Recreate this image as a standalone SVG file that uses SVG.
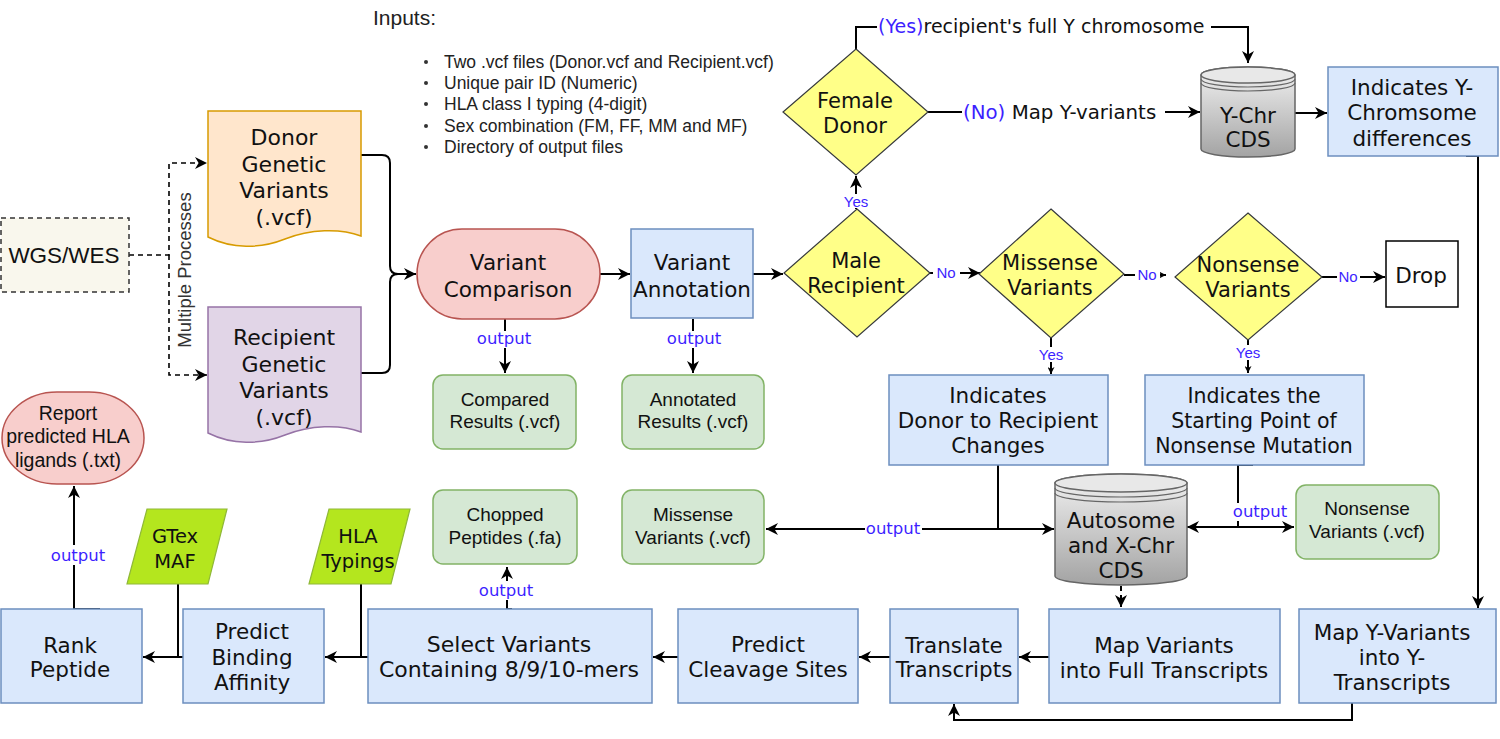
<svg xmlns="http://www.w3.org/2000/svg" width="1500" height="739" viewBox="0 0 1500 739">
<defs>
<style>
.blue{fill:#dae8fc;stroke:#6c8ebf;stroke-width:1.5}
.green{fill:#d5e8d4;stroke:#82b366;stroke-width:1.5}
.red{fill:#f8cecc;stroke:#b85450;stroke-width:1.5}
.yel{fill:#ffff88;stroke:#36393d;stroke-width:1.2}
.lime{fill:#b4e61e;stroke:#8fb838;stroke-width:1.2}
.cyl{fill:url(#cg);stroke:#666;stroke-width:1.5}
.cylt{fill:#e8e8e8;stroke:#666;stroke-width:1.5}
.ring{fill:none;stroke:#666;stroke-width:1.2}
.t{font-family:'DejaVu Sans',Verdana,sans-serif;font-size:21.5px;fill:#111;text-anchor:middle}
.h{font-family:'Liberation Sans',Arial,sans-serif;fill:#111;text-anchor:middle}
.g{font-family:'Liberation Sans',Arial,sans-serif;font-size:19px;fill:#111;text-anchor:middle}
.o{font-family:'DejaVu Sans',Verdana,sans-serif;font-size:16.5px;fill:#3d1fff;text-anchor:middle}
.yn{font-family:'Liberation Sans',Arial,sans-serif;font-size:15px;fill:#3d1fff;text-anchor:middle}
.e{fill:none;stroke:#000;stroke-width:2}
.d{fill:none;stroke:#000;stroke-width:1.6;stroke-dasharray:5,4}
.bg{fill:#fff}
</style>
<linearGradient id="cg" x1="0" y1="0" x2="0" y2="1">
<stop offset="0" stop-color="#f2f2f2"/>
<stop offset="1" stop-color="#a3a3a3"/>
</linearGradient>
<marker id="a" viewBox="0 0 10 10" refX="10" refY="5" markerWidth="12" markerHeight="12" markerUnits="userSpaceOnUse" orient="auto">
<path d="M0,0 L10,5 L0,10 L3,5 Z" fill="#000"/>
</marker>
<marker id="s" viewBox="0 0 10 10" refX="10" refY="5" markerWidth="7" markerHeight="7" markerUnits="userSpaceOnUse" orient="auto">
<path d="M0,0 L10,5 L0,10 L3,5 Z" fill="#000"/>
</marker>
</defs>
<rect width="1500" height="739" fill="#fff"/>

<g id="inputs">
<text class="h" x="373" y="25" style="font-size:21px;text-anchor:start;fill:#222">Inputs:</text>
<g fill="#333"><circle cx="426" cy="62" r="2"/><circle cx="426" cy="83" r="2"/><circle cx="426" cy="104" r="2"/><circle cx="426" cy="126" r="2"/><circle cx="426" cy="147" r="2"/></g>
<g class="h" style="font-size:17.5px;text-anchor:start;fill:#222">
<text x="444" y="68">Two .vcf files (Donor.vcf and Recipient.vcf)</text>
<text x="444" y="89">Unique pair ID (Numeric)</text>
<text x="444" y="110">HLA class I typing (4-digit)</text>
<text x="444" y="132">Sex combination (FM, FF, MM and MF)</text>
<text x="444" y="153">Directory of output files</text>
</g>
</g>

<g id="connectors">
<path class="d" d="M129,255 H169 V163 H207" marker-end="url(#a)"/>
<path class="d" d="M169,255 V375 H207" marker-end="url(#a)"/>
<text class="h" transform="translate(191,270) rotate(-90)" style="font-size:18.5px;fill:#333">Multiple Processes</text>
<path class="e" d="M361,155 H382 Q390,155 390,163 V266 Q390,274 398,274 H416" marker-end="url(#a)"/>
<path class="e" d="M361,373 H382 Q390,373 390,365 V282 Q390,274 398,274"/>
<path class="e" d="M600,274 H630" marker-end="url(#a)"/>
<path class="e" d="M753,274 H783" marker-end="url(#a)"/>
<path class="e" d="M505,319 V373" marker-end="url(#a)"/>
<rect class="bg" x="478" y="331" width="54" height="17"/>
<text class="o" x="504" y="344">output</text>
<path class="e" d="M693,319 V373" marker-end="url(#a)"/>
<rect class="bg" x="667" y="331" width="54" height="17"/>
<text class="o" x="694" y="344">output</text>
<path class="e" d="M856,209 V176" marker-end="url(#a)"/>
<rect class="bg" x="843" y="194" width="26" height="14"/>
<text class="yn" x="856" y="207">Yes</text>
<path class="e" d="M856,49 V27 H1248 V63" marker-end="url(#a)"/>
<rect class="bg" x="877" y="15" width="334" height="22"/>
<text class="t" x="878" y="33" style="font-size:19px;text-anchor:start"><tspan fill="#3d1fff">(Yes)</tspan>recipient's full Y chromosome</text>
<path class="e" d="M928,112 H1200" marker-end="url(#a)"/>
<rect class="bg" x="962" y="101" width="203" height="23"/>
<text class="t" x="963" y="119" style="font-size:19.8px;text-anchor:start"><tspan fill="#3d1fff">(No)</tspan> Map Y-variants</text>
<path class="e" d="M1295,113 H1327" marker-end="url(#a)"/>
<path class="e" d="M1466,156 H1478 V608" marker-end="url(#a)"/>
<path class="e" d="M930,273 H980" marker-end="url(#a)"/>
<rect class="bg" x="933" y="264" width="27" height="16"/>
<text class="yn" x="946" y="278">No</text>
<path class="e" d="M1124,275 H1166" marker-end="url(#s)"/>
<rect class="bg" x="1135" y="266" width="25" height="16"/>
<text class="yn" x="1147" y="280">No</text>
<path class="e" d="M1322,277 H1385" marker-end="url(#a)"/>
<rect class="bg" x="1337" y="268" width="23" height="16"/>
<text class="yn" x="1348" y="282">No</text>
<path class="e" d="M1051,338 V374" marker-end="url(#s)"/>
<rect class="bg" x="1038" y="347" width="27" height="15"/>
<text class="yn" x="1051" y="360">Yes</text>
<path class="e" d="M1248,340 V373" marker-end="url(#s)"/>
<rect class="bg" x="1235" y="345" width="27" height="15"/>
<text class="yn" x="1248" y="358">Yes</text>
<path class="e" d="M998,465 V529"/>
<path class="e" d="M998,529 H766" marker-end="url(#a)"/>
<path class="e" d="M998,529 H1054" marker-end="url(#a)"/>
<rect class="bg" x="865" y="519" width="57" height="19"/>
<text class="o" x="893" y="534">output</text>
<path class="e" d="M1253,465 H1238 V527"/>
<path class="e" d="M1238,527 H1187" marker-end="url(#a)"/>
<path class="e" d="M1238,527 H1294" marker-end="url(#a)"/>
<rect class="bg" x="1233" y="503" width="54" height="18"/>
<text class="o" x="1260" y="517">output</text>
<path class="d" d="M1121,586 V607" style="stroke-width:2" marker-end="url(#a)"/>
<path class="e" d="M1049,657 H1019" marker-end="url(#a)"/>
<path class="e" d="M1352,703 V720 H954 V704" marker-end="url(#a)"/>
<path class="e" d="M890,657 H859" marker-end="url(#a)"/>
<path class="e" d="M678,657 H653" marker-end="url(#a)"/>
<path class="e" d="M512,609 H507 V567" marker-end="url(#a)"/>
<rect class="bg" x="479" y="581" width="56" height="19"/>
<text class="o" x="506" y="596">output</text>
<path class="e" d="M361,584 V657"/>
<path class="e" d="M368,657 H325" marker-end="url(#a)"/>
<path class="e" d="M178,584 V657"/>
<path class="e" d="M183,657 H143" marker-end="url(#a)"/>
<path class="e" d="M100,609 H74 V486" marker-end="url(#a)"/>
<rect class="bg" x="50" y="545" width="56" height="20"/>
<text class="o" x="78" y="561">output</text>
</g>

<g id="wgs">
<rect x="1" y="218" width="128" height="74" fill="#f9f7ed" stroke="#333" stroke-width="1.5" stroke-dasharray="5,4"/>
<text class="h" x="64" y="263" style="font-size:22.5px">WGS/WES</text>
</g>

<g id="donor">
<path d="M208,111 H361 V236 C340,228 310,229 285,239 C260,249 232,249 208,237 Z" fill="#ffe6cc" stroke="#d79b00" stroke-width="1.5"/>
<text class="t" x="284" y="145" style="font-size:22px">Donor</text>
<text class="t" x="284" y="171.5" style="font-size:22px">Genetic</text>
<text class="t" x="284" y="198" style="font-size:22px">Variants</text>
<text class="t" x="284" y="224.5" style="font-size:22px">(.vcf)</text>
</g>

<g id="recipient">
<path d="M208,307 H361 V432 C340,424 310,425 285,435 C260,445 232,445 208,433 Z" fill="#e1d5e7" stroke="#9673a6" stroke-width="1.5"/>
<text class="t" x="284" y="345" style="font-size:22px">Recipient</text>
<text class="t" x="284" y="371.5" style="font-size:22px">Genetic</text>
<text class="t" x="284" y="398" style="font-size:22px">Variants</text>
<text class="t" x="284" y="424.5" style="font-size:22px">(.vcf)</text>
</g>

<g id="variant-comparison">
<rect class="red" x="417" y="229" width="183" height="90" rx="45" ry="45"/>
<text class="t" x="508" y="270">Variant</text>
<text class="t" x="508" y="297">Comparison</text>
</g>

<g id="variant-annotation">
<rect class="blue" x="631" y="229" width="122" height="89"/>
<text class="t" x="692" y="270">Variant</text>
<text class="t" x="692" y="297">Annotation</text>
</g>

<g id="compared-results">
<rect class="green" x="433" y="375" width="143" height="74" rx="10"/>
<text class="g" x="505" y="405.5">Compared</text>
<text class="g" x="505" y="428">Results (.vcf)</text>
</g>

<g id="annotated-results">
<rect class="green" x="622" y="375" width="142" height="74" rx="10"/>
<text class="g" x="693" y="405.5">Annotated</text>
<text class="g" x="693" y="428">Results (.vcf)</text>
</g>

<g id="female-donor">
<polygon class="yel" points="856,49 928,112 856,175 783,112"/>
<text class="t" x="855" y="108" style="font-size:21px">Female</text>
<text class="t" x="855" y="133" style="font-size:21px">Donor</text>
</g>

<g id="male-recipient">
<polygon class="yel" points="857,209 930,273 857,337 784,273"/>
<text class="t" x="856" y="268" style="font-size:21px">Male</text>
<text class="t" x="856" y="293" style="font-size:21px">Recipient</text>
</g>

<g id="missense-decision">
<polygon class="yel" points="1051,209 1124,274 1051,338 979,274"/>
<text class="t" x="1050" y="270" style="font-size:21px">Missense</text>
<text class="t" x="1050" y="295" style="font-size:21px">Variants</text>
</g>

<g id="nonsense-decision">
<polygon class="yel" points="1248,213 1322,277 1248,340 1175,277"/>
<text class="t" x="1248" y="272" style="font-size:21px">Nonsense</text>
<text class="t" x="1248" y="297" style="font-size:21px">Variants</text>
</g>

<g id="drop">
<rect x="1386" y="241" width="72" height="66" fill="#fff" stroke="#000" stroke-width="1.5"/>
<text class="t" x="1421" y="283">Drop</text>
</g>

<g id="y-chr-cds">
<path class="cyl" d="M1201,75 A47,8 0 0 1 1295,75 V149 A47,8 0 0 1 1201,149 Z"/>
<ellipse class="cylt" cx="1248" cy="75" rx="47" ry="8"/>
<path class="ring" d="M1201,79 A47,8 0 0 0 1295,79 M1201,83 A47,8 0 0 0 1295,83"/>
<text class="t" x="1248" y="123">Y-Chr</text>
<text class="t" x="1248" y="147">CDS</text>
</g>

<g id="indicates-y">
<rect class="blue" x="1328" y="67" width="170" height="89"/>
<text class="t" x="1412" y="95">Indicates Y-</text>
<text class="t" x="1412" y="120">Chromsome</text>
<text class="t" x="1412" y="146">differences</text>
</g>

<g id="indicates-donor-recipient">
<rect class="blue" x="889" y="375" width="219" height="90"/>
<text class="t" x="998" y="403">Indicates</text>
<text class="t" x="998" y="428">Donor to Recipient</text>
<text class="t" x="998" y="453">Changes</text>
</g>

<g id="indicates-nonsense">
<rect class="blue" x="1145" y="375" width="219" height="90"/>
<text class="t" x="1254" y="403" style="font-size:20.5px">Indicates the</text>
<text class="t" x="1254" y="428" style="font-size:20.5px">Starting Point of</text>
<text class="t" x="1254" y="453" style="font-size:20.5px">Nonsense Mutation</text>
</g>

<g id="autosome-cds">
<path class="cyl" d="M1055,483 A66,9 0 0 1 1187,483 V576 A66,9 0 0 1 1055,576 Z"/>
<ellipse class="cylt" cx="1121" cy="483" rx="66" ry="9"/>
<path class="ring" d="M1055,488 A66,9 0 0 0 1187,488 M1055,493 A66,9 0 0 0 1187,493"/>
<text class="t" x="1121" y="528">Autosome</text>
<text class="t" x="1121" y="553">and X-Chr</text>
<text class="t" x="1121" y="578">CDS</text>
</g>

<g id="missense-variants">
<rect class="green" x="622" y="490" width="142" height="74" rx="10"/>
<text class="g" x="693" y="521">Missense</text>
<text class="g" x="693" y="544">Variants (.vcf)</text>
</g>

<g id="nonsense-variants">
<rect class="green" x="1296" y="485" width="143" height="74" rx="10"/>
<text class="g" x="1367" y="515">Nonsense</text>
<text class="g" x="1367" y="538">Variants (.vcf)</text>
</g>

<g id="chopped-peptides">
<rect class="green" x="433" y="490" width="144" height="74" rx="10"/>
<text class="g" x="505" y="521">Chopped</text>
<text class="g" x="505" y="544">Peptides (.fa)</text>
</g>

<g id="report">
<rect class="red" x="2" y="392" width="142" height="92" rx="55" ry="46"/>
<text class="h" x="68" y="420" style="font-size:19.5px">Report</text>
<text class="h" x="68" y="443" style="font-size:19.5px">predicted HLA</text>
<text class="h" x="68" y="467" style="font-size:19.5px">ligands (.txt)</text>
</g>

<g id="gtex-maf">
<polygon class="lime" points="147,509 227,509 208,584 127,584"/>
<text class="t" x="175" y="543" style="font-size:19.5px">GTex</text>
<text class="t" x="175" y="568" style="font-size:19.5px">MAF</text>
</g>

<g id="hla-typings">
<polygon class="lime" points="329,509 410,509 391,584 309,584"/>
<text class="t" x="358" y="543" style="font-size:19.5px">HLA</text>
<text class="t" x="358" y="568" style="font-size:19.5px">Typings</text>
</g>

<g id="rank-peptide">
<rect class="blue" x="1" y="609" width="141" height="94"/>
<text class="t" x="70" y="652.5">Rank</text>
<text class="t" x="70" y="677">Peptide</text>
</g>

<g id="predict-binding">
<rect class="blue" x="183" y="609" width="141" height="94"/>
<text class="t" x="252" y="639">Predict</text>
<text class="t" x="252" y="664.5">Binding</text>
<text class="t" x="252" y="690">Affinity</text>
</g>

<g id="select-variants">
<rect class="blue" x="368" y="609" width="284" height="94"/>
<text class="t" x="509" y="652" style="font-size:22px">Select Variants</text>
<text class="t" x="509" y="677" style="font-size:22px">Containing 8/9/10-mers</text>
</g>

<g id="predict-cleavage">
<rect class="blue" x="678" y="609" width="180" height="94"/>
<text class="t" x="768" y="652">Predict</text>
<text class="t" x="768" y="677">Cleavage Sites</text>
</g>

<g id="translate">
<rect class="blue" x="890" y="609" width="128" height="94"/>
<text class="t" x="954" y="653">Translate</text>
<text class="t" x="954" y="677">Transcripts</text>
</g>

<g id="map-variants">
<rect class="blue" x="1049" y="609" width="231" height="94"/>
<text class="t" x="1164" y="653">Map Variants</text>
<text class="t" x="1164" y="678">into Full Transcripts</text>
</g>

<g id="map-y-variants">
<rect class="blue" x="1299" y="609" width="197" height="94"/>
<text class="t" x="1392" y="640">Map Y-Variants</text>
<text class="t" x="1392" y="665">into Y-</text>
<text class="t" x="1392" y="690">Transcripts</text>
</g>
</svg>
